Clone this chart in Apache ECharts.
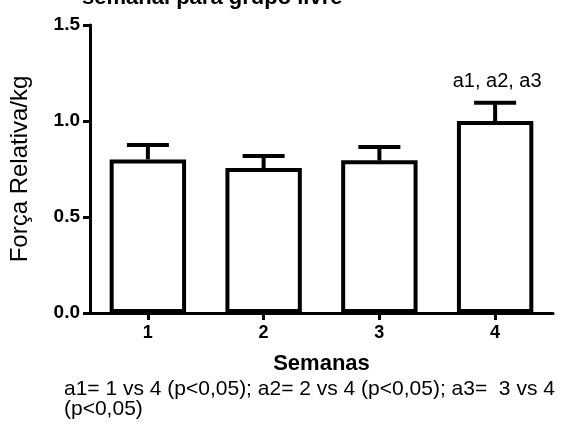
<!DOCTYPE html>
<html><head><meta charset="utf-8">
<script src="https://cdn.jsdelivr.net/npm/echarts@6/dist/echarts.min.js"></script>
<style>html,body{margin:0;padding:0;background:#fff}#c{width:568px;height:432px}</style>
</head><body><div id="c"></div>
<script>
const categories = ['1', '2', '3', '4'];
const means = [0.80, 0.755, 0.795, 1.0];
const errTop = [0.875, 0.818, 0.865, 1.095];
const annotations = ['', '', '', 'a1, a2, a3'];
const yTicks = [0, 0.5, 1.0, 1.5];

const chart = echarts.init(document.getElementById('c'));
const F = 'Arial, "Liberation Sans", sans-serif';
chart.setOption({
  animation: false,
  backgroundColor: '#fff',
  grid: { left: 90, right: 15, top: 25, bottom: 119 },
  xAxis: {
    type: 'category', data: categories,
    axisLine: { lineStyle: { color: '#000', width: 3 } },
    axisTick: { show: true, alignWithLabel: true, length: 7, lineStyle: { color: '#000', width: 3 } },
    axisLabel: { color: '#000', fontFamily: F, fontWeight: 'bold', fontSize: 18, margin: 11 },
    name: 'Semanas', nameLocation: 'middle', nameGap: 40,
    nameTextStyle: { color: '#000', fontFamily: F, fontWeight: 'bold', fontSize: 22 }
  },
  yAxis: {
    type: 'value', min: yTicks[0], max: yTicks[yTicks.length - 1], interval: 0.5,
    splitLine: { show: false },
    axisLine: { show: true, lineStyle: { color: '#000', width: 3 } },
    axisTick: { show: true, length: 7, lineStyle: { color: '#000', width: 3 } },
    axisLabel: { color: '#000', fontFamily: F, fontWeight: 'bold', fontSize: 19, margin: 10,
      formatter: v => v.toFixed(1) },
    name: 'Força Relativa/kg', nameLocation: 'middle', nameGap: 58, nameRotate: 90,
    nameTextStyle: { color: '#000', fontFamily: F, fontSize: 24 }
  },
  series: [
    {
      type: 'bar', data: means, barWidth: '66%',
      itemStyle: { color: '#fff', borderColor: '#000', borderWidth: 4 },
      z: 2
    },
    {
      type: 'custom',
      data: means.map((m, i) => [i, m, errTop[i]]),
      z: 3,
      renderItem: function (params, api) {
        const i = api.value(0);
        const p0 = api.coord([i, api.value(1)]);
        const p1 = api.coord([i, api.value(2)]);
        const hw = 21;
        const children = [
          { type: 'line', shape: { x1: p0[0], y1: p0[1], x2: p1[0], y2: p1[1] }, style: { stroke: '#000', lineWidth: 4 } },
          { type: 'line', shape: { x1: p1[0] - hw, y1: p1[1], x2: p1[0] + hw, y2: p1[1] }, style: { stroke: '#000', lineWidth: 4 } }
        ];
        const t = annotations[i];
        if (t) {
          children.push({ type: 'text', style: { text: t, x: p1[0] + 2, y: p1[1] - 11, align: 'center', verticalAlign: 'bottom',
            font: '20px ' + F, fill: '#000' } });
        }
        return { type: 'group', children: children };
      }
    }
  ],
  graphic: [
    { type: 'text', left: 82, top: -13, style: { text: 'semanal para grupo livre', font: 'bold 22px ' + F, fill: '#000' } },
    { type: 'text', left: 64, top: 379, style: { text: 'a1= 1 vs 4 (p<0,05); a2= 2 vs 4 (p<0,05); a3=  3 vs 4', font: '21px ' + F, fill: '#000' } },
    { type: 'text', left: 64, top: 399, style: { text: '(p<0,05)', font: '21px ' + F, fill: '#000' } }
  ]
});
</script></body></html>
